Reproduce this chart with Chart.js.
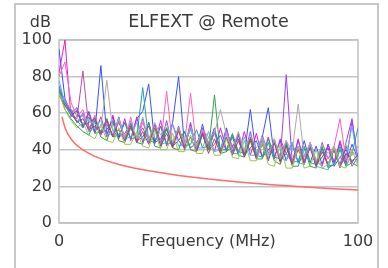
<!DOCTYPE html>
<html>
<head>
<meta charset="utf-8">
<script src="https://cdn.jsdelivr.net/npm/chart.js@4"></script>
<style>
  body { margin: 0; background: #fff; }
  #wrap { width: 388px; height: 268px; }
</style>
</head>
<body>
<div id="wrap"><canvas id="myChart" width="388" height="268"></canvas></div>
<script>
// ELFEXT @ Remote - pair-to-pair traces plus the limit line

// frequencies (MHz) shared by all measured traces
const freqs = [0,2,4,6,8,10,12,14,16,18,20,22,24,26,28,30,32,34,36,38,40,
  42,44,46,48,50,52,54,56,58,60,62,64,66,68,70,72,74,76,78,80,
  82,84,86,88,90,92,94,96,98,100];

// measured traces (dB)
const traceBlue = [95,68,60,63,53,61,50,86,48,58,47,
  55,46,57,61,76,44,53,43,55,80,
  42,52,41,54,40,50,40,52,39,49,
  38,62,37,47,63,36,45,34,44,33,
  45,33,42,32,43,33,44,33,43,35];
const traceMagenta = [82,100,58,62,52,60,49,58,47,59,46,
  57,45,58,44,55,43,56,42,54,45,
  41,54,40,52,44,39,52,40,48,38,
  50,37,49,36,47,35,46,38,33,46,
  32,44,34,31,43,33,45,32,56,34];
const tracePurple = [75,66,62,55,60,50,58,48,56,47,58,
  46,55,45,57,44,54,43,56,42,53,
  41,55,40,50,43,52,39,51,41,48,
  37,50,36,48,38,45,35,81,33,45,
  34,43,31,44,35,40,32,44,57,33];
const traceGreen = [72,62,57,53,50,48,56,47,45,55,45,
  44,52,44,43,55,42,41,52,41,40,
  50,40,39,48,40,70,38,39,47,37,
  36,45,35,35,44,34,32,43,31,31,
  41,31,30,42,30,32,40,31,33,31];
const traceTeal = [74,64,59,56,52,58,49,50,57,47,48,
  55,46,47,74,45,44,53,43,44,52,
  42,43,51,41,42,50,40,40,49,39,
  38,47,37,36,46,36,35,44,33,34,
  42,33,32,41,31,32,42,31,38,52];
const tracePink = [80,88,66,58,62,51,59,48,57,47,56,
  45,58,44,55,46,53,43,72,42,52,
  44,71,41,51,43,49,40,50,42,48,
  39,47,38,46,40,44,36,45,34,40,
  36,44,33,41,35,42,57,34,39,36];
const traceGray = [70,67,62,60,58,56,54,52,78,50,57,
  47,56,46,58,45,55,48,54,44,52,
  43,53,42,51,47,49,62,48,40,50,
  39,48,41,47,37,46,35,45,39,65,
  36,44,34,43,38,42,35,43,37,42];
const tracePlum = [73,67,60,57,83,52,56,50,54,48,55,
  47,53,46,52,45,54,44,51,43,50,
  42,52,41,49,40,50,39,47,38,48,
  37,46,36,45,35,46,34,43,33,42,
  32,43,31,41,32,40,30,42,31,36];
const traceLime = [71,62,56,52,55,48,46,54,45,44,52,
  43,43,50,42,41,51,40,40,49,39,
  39,48,38,38,47,37,37,46,36,35,
  45,34,34,44,32,31,43,30,30,42,
  30,31,40,30,32,41,31,30,40,31];
const traceSky = [78,65,60,55,59,50,52,56,48,49,57,
  46,47,55,45,46,52,43,44,54,42,
  43,51,41,41,50,39,40,49,38,38,
  47,37,37,46,35,45,36,34,44,33,
  32,43,31,30,29,42,31,36,53,33];
const traceMaroon = [70,64,61,55,57,51,53,49,56,47,51,
  45,53,44,50,43,52,42,49,41,51,
  40,47,39,49,38,46,38,47,37,45,
  36,46,35,43,34,44,33,42,32,40,
  33,41,31,39,32,40,31,38,34,37];
const traceNavy = [72,66,59,61,53,55,57,49,51,56,47,
  49,54,45,47,53,44,46,52,42,45,
  50,41,44,49,40,43,48,39,42,46,
  37,41,45,36,40,44,34,38,43,33,
  37,42,32,36,41,31,36,40,33,38];

// limit line
const limitFreqs = [1,2,3,4,5,6,8,10,12,15,20,25,30,40,50,60,70,80,90,100];
const limitVals = [58,52,48.5,46,44,42.4,39.9,38,36.4,34.5,32,30,28.5,26,24,22.4,21,19.9,18.9,18];

const yTicks = [0,20,40,60,80,100];
const xTicks = [0,100];

const traces = [
  [traceLime, '#96c850'],
  [traceGray, '#aaaaaa'],
  [traceMaroon, '#b04060'],
  [traceTeal, '#20a0a0'],
  [traceGreen, '#30a050'],
  [traceSky, '#50b4ff'],
  [traceNavy, '#4058c8'],
  [tracePlum, '#b050b0'],
  [tracePink, '#ff60c0'],
  [tracePurple, '#9a40ff'],
  [traceMagenta, '#e020d0'],
  [traceBlue, '#3850ff']
];

function toPoints(xs, ys) {
  return ys.map((v, i) => ({ x: xs[i], y: v }));
}

const datasets = traces.map(t => ({
  data: toPoints(freqs, t[0]),
  borderColor: t[1],
  borderWidth: 1,
  pointRadius: 0,
  fill: false
}));
datasets.push({
  data: toPoints(limitFreqs, limitVals),
  borderColor: '#ff6a6a',
  borderWidth: 1.5,
  pointRadius: 0,
  fill: false
});

const FONT = 'DejaVu Sans';
const TEXT = '#3a3a3a';

// outer frame, plot border, title centred over the plot, "dB" unit label
const framePlugin = {
  id: 'frame',
  beforeDraw(chart) {
    const ctx = chart.ctx;
    const a = chart.chartArea;
    ctx.save();
    ctx.strokeStyle = '#c8c8c8';
    ctx.lineWidth = 2;
    ctx.strokeRect(15, 4, 363, 300);
    ctx.fillStyle = TEXT;
    ctx.textBaseline = 'middle';
    ctx.font = '16px "' + FONT + '"';
    ctx.textAlign = 'right';
    ctx.fillText('dB', 51, 23);
    ctx.font = '17.5px "' + FONT + '"';
    ctx.textAlign = 'center';
    ctx.fillText('ELFEXT @ Remote', (a.left + a.right) / 2, 22);
    ctx.restore();
  },
  beforeDatasetsDraw(chart) {
    const a = chart.chartArea;
    const ctx = chart.ctx;
    ctx.save();
    ctx.strokeStyle = '#c0c0c0';
    ctx.lineWidth = 1.5;
    ctx.strokeRect(a.left, a.top, a.right - a.left, a.bottom - a.top);
    ctx.restore();
  }
};

window.onload = function() {
  const ctx = document.getElementById('myChart').getContext('2d');
  new Chart(ctx, {
    type: 'line',
    data: { datasets: datasets },
    options: {
      responsive: false,
      animation: false,
      layout: { padding: { left: 10, right: 30, top: 40, bottom: 0 } },
      plugins: {
        legend: { display: false },
        tooltip: { enabled: false },
        title: { display: false }
      },
      scales: {
        x: {
          type: 'linear',
          min: 0,
          max: 100,
          afterBuildTicks: s => { s.ticks = xTicks.map(v => ({ value: v })); },
          afterFit: s => { s.height = 45; },
          grid: { display: false, drawTicks: false },
          border: { display: false },
          ticks: { color: TEXT, font: { family: FONT, size: 16 }, padding: 9, maxRotation: 0 },
          title: {
            display: true,
            text: 'Frequency (MHz)',
            color: TEXT,
            font: { family: FONT, size: 16 },
            padding: { top: 0, bottom: 16.4 }
          }
        },
        y: {
          min: 0,
          max: 100,
          afterBuildTicks: s => { s.ticks = yTicks.map(v => ({ value: v })); },
          afterFit: s => { s.width = 49; },
          grid: { color: '#c4c4c4', lineWidth: 1.5, drawTicks: false },
          border: { display: false },
          ticks: { color: TEXT, font: { family: FONT, size: 16 }, padding: 7 }
        }
      }
    },
    plugins: [framePlugin]
  });
};
</script>
</body>
</html>
